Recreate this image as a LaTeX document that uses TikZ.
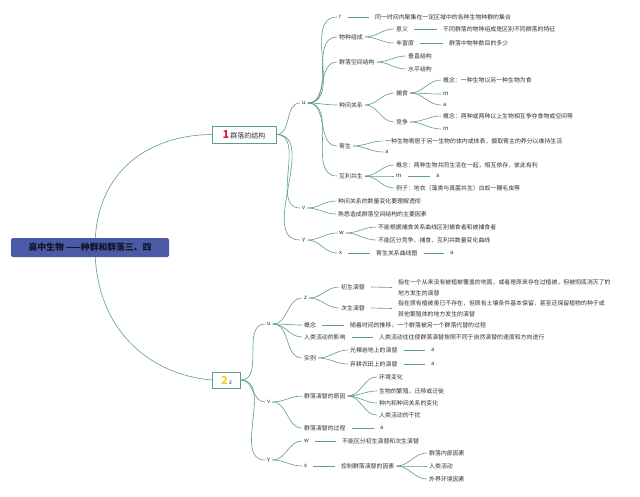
\documentclass[tikz,border=0pt]{standalone}
\usepackage{fontspec}
\setmainfont{Noto Sans CJK SC}
\usetikzlibrary{backgrounds}
\definecolor{lc}{HTML}{5E9E8C}
\definecolor{txt}{HTML}{333333}
\definecolor{rootblue}{HTML}{4A5AA6}
\definecolor{roottxt}{HTML}{10142A}
\definecolor{onered}{HTML}{D8203C}
\definecolor{twoyel}{HTML}{EFD21E}
\tikzset{
 lnk/.style={draw=lc, line width=0.6pt},
 tx/.style={anchor=west, inner xsep=2pt, inner ysep=1pt, font=\fontsize{5.9}{10.5}\selectfont, text=txt},
 txm/.style={tx, align=left},
 rootbox/.style={fill=rootblue, rounded corners=1.5pt, minimum width=158pt, minimum height=19pt, inner sep=0pt, text=roottxt, font=\fontsize{8.8}{10}\selectfont\bfseries},
 mainbox/.style={draw=lc, line width=0.7pt, fill=white, inner sep=0pt, font=\fontsize{7}{9}\selectfont, text=txt},
}
\newcommand{\cv}[2]{\draw[lnk] (#1.east) to[out=0,in=180] (#2.west);}
\newcommand{\st}[2]{\draw[lnk] ([xshift=4pt]#1.east) -- ([xshift=-4pt]#2.west);}
\begin{document}
\begin{tikzpicture}[x=1pt,y=-1pt]
\useasboundingbox (0,0) rectangle (640,496);
% main nodes
\node[rootbox] (root) at (90,247.5) {高中生物 ——种群和群落三、四};
\node[mainbox, minimum width=64pt, minimum height=17pt] (n1) at (244,134.5) {{\fontsize{11}{11}\selectfont\bfseries\color{onered}1}\,群落的结构};
\node[mainbox, minimum width=28pt, minimum height=16pt] (n2) at (226.5,380) {{\fontsize{11}{11}\selectfont\bfseries\color{twoyel}2}\,{\fontsize{5.9}{7}\selectfont z}};
\begin{pgfonlayer}{background}
\fill[white] (0,0) rectangle (640,496);
\draw[lnk] ([xshift=5pt]root.center) .. controls (95,170) and (150,135) .. (n1.west);
\draw[lnk] ([xshift=5pt]root.center) .. controls (95,330) and (150,375) .. (n2.west);
\end{pgfonlayer}
% ---------- group 1 ----------
\node[tx] (u1) at (300,103) {u};
\node[tx] (v1) at (300,208) {v};
\node[tx] (Y1) at (300,240) {Y};
\cv{n1}{u1} \cv{n1}{v1} \cv{n1}{Y1}
\node[tx] (ar) at (337,17) {r};
\node[tx] (awz) at (337,37) {物种组成};
\node[tx] (akj) at (337,62) {群落空间结构};
\node[tx] (azj) at (337,105) {种间关系};
\node[tx] (ajs) at (337,146) {寄生};
\node[tx] (ahl) at (337,176) {互利共生};
\cv{u1}{ar} \cv{u1}{awz} \cv{u1}{akj} \cv{u1}{azj} \cv{u1}{ajs} \cv{u1}{ahl}
\node[tx] (ard) at (373,17) {同一时间内聚集在一定区域中的各种生物种群的集合};
\st{ar}{ard}
\node[tx] (byy) at (394,29) {意义};
\node[tx] (byyd) at (441,29) {不同群落的物种组成是区别不同群落的特征};
\node[tx] (bff) at (394,43) {丰富度};
\node[tx] (bffd) at (447,43) {群落中物种数目的多少};
\cv{awz}{byy} \cv{awz}{bff} \st{byy}{byyd} \st{bff}{bffd}
\node[tx] (bcz) at (406,56) {垂直结构};
\node[tx] (bsp) at (406,69) {水平结构};
\cv{akj}{bcz} \cv{akj}{bsp}
\node[tx] (bbs) at (394,93) {捕食};
\node[tx] (bjz) at (394,122) {竞争};
\cv{azj}{bbs} \cv{azj}{bjz}
\node[tx] (cbs1) at (441,80) {概念：一种生物以另一种生物为食};
\node[tx] (cbs2) at (441,94) {m};
\node[tx] (cbs3) at (441,105) {a};
\cv{bbs}{cbs1} \cv{bbs}{cbs2} \cv{bbs}{cbs3}
\node[tx] (cjz1) at (441,116) {概念：两种或两种以上生物相互争夺食物或空间等};
\node[tx] (cjz2) at (441,129) {m};
\cv{bjz}{cjz1} \cv{bjz}{cjz2}
\node[tx] (bjs1) at (383,141) {一种生物寄居于另一生物的体内或体表，摄取寄主的养分以维持生活};
\node[tx] (bjs2) at (383,152) {a};
\cv{ajs}{bjs1} \cv{ajs}{bjs2}
\node[tx] (bhl1) at (394,165) {概念：两种生物共同生活在一起，相互依存，彼此有利};
\node[tx] (bhl2) at (394,176) {m};
\node[tx] (bhl2a) at (434,176) {a};
\node[tx] (bhl3) at (394,188) {例子：地衣（藻类与真菌共生）白蚁一鞭毛虫等};
\cv{ahl}{bhl1} \cv{ahl}{bhl2} \cv{ahl}{bhl3} \st{bhl2}{bhl2a}
\node[tx] (v1a) at (336,201) {种间关系的数量变化要理解透彻};
\node[tx] (v1b) at (336,214) {熟悉造成群落空间结构的主要因素};
\cv{v1}{v1a} \cv{v1}{v1b}
\node[tx] (w1) at (337,233) {w};
\node[tx] (x1) at (337,253) {x};
\cv{Y1}{w1} \cv{Y1}{x1}
\node[tx] (w1a) at (376,227) {不能根据捕食关系曲线区别捕食者和被捕食者};
\node[tx] (w1b) at (376,240) {不能区分竞争、捕食、互利共数量变化曲线};
\cv{w1}{w1a} \cv{w1}{w1b}
\node[tx] (x1a) at (374,253) {寄生关系曲线图};
\node[tx] (x1b) at (448,253) {a};
\st{x1}{x1a} \st{x1a}{x1b}
% ---------- group 2 ----------
\node[tx] (u2) at (265,324) {u};
\node[tx] (v2) at (265,402) {v};
\node[tx] (Y2) at (265,460) {Y};
\cv{n2}{u2} \cv{n2}{v2} \cv{n2}{Y2}
\node[tx] (z2) at (302,298) {z};
\node[tx] (gn) at (302,325) {概念};
\node[tx] (rl) at (302,337) {人类活动的影响};
\node[tx] (sl) at (302,358) {实例};
\cv{u2}{z2} \cv{u2}{gn} \cv{u2}{rl} \cv{u2}{sl}
\node[tx] (cs) at (339,287) {初生演替};
\node[tx] (ccs) at (339,308) {次生演替};
\cv{z2}{cs} \cv{z2}{ccs}
\node[txm] (csd) at (396,287.5) {指在一个从来没有被植被覆盖的地面，或者是原来存在过植被，但被彻底消灭了的\\地方发生的演替};
\node[txm] (ccsd) at (396,308.5) {指在原有植被虽已不存在，但原有土壤条件基本保留，甚至还保留植物的种子或\\其他繁殖体的地方发生的演替};
\st{cs}{csd} \st{ccs}{ccsd}
\node[tx] (gnd) at (348,325) {随着时间的推移，一个群落被另一个群落代替的过程};
\st{gn}{gnd}
\node[tx] (rld) at (377,337) {人类活动往往使群落演替按照不同于自然演替的速度和方向进行};
\st{rl}{rld}
\node[tx] (sl1) at (348,350) {光裸岩地上的演替};
\node[tx] (sl2) at (348,364) {弃耕农田上的演替};
\node[tx] (sl1a) at (429,350) {a};
\node[tx] (sl2a) at (429,364) {a};
\cv{sl}{sl1} \cv{sl}{sl2} \st{sl1}{sl1a} \st{sl2}{sl2a}
\node[tx] (yy) at (302,396) {群落演替的原因};
\node[tx] (gc) at (302,428) {群落演替的过程};
\cv{v2}{yy} \cv{v2}{gc}
\node[tx] (yy1) at (377,377) {环境变化};
\node[tx] (yy2) at (377,391) {生物的繁殖，迁移或迁徙};
\node[tx] (yy3) at (377,403) {种内和种间关系的变化};
\node[tx] (yy4) at (377,415) {人类活动的干扰};
\cv{yy}{yy1} \cv{yy}{yy2} \cv{yy}{yy3} \cv{yy}{yy4}
\node[tx] (gca) at (378,428) {a};
\st{gc}{gca}
\node[tx] (w2) at (302,441) {w};
\node[tx] (x2) at (302,466) {x};
\cv{Y2}{w2} \cv{Y2}{x2}
\node[tx] (w2a) at (340,441) {不能区分初生演替和次生演替};
\st{w2}{w2a}
\node[tx] (x2a) at (339,466) {控制群落演替的因素};
\st{x2}{x2a}
\node[tx] (kz1) at (427,453) {群落内部因素};
\node[tx] (kz2) at (427,466) {人类活动};
\node[tx] (kz3) at (427,479) {外界环境因素};
\cv{x2a}{kz1} \cv{x2a}{kz2} \cv{x2a}{kz3}
\end{tikzpicture}
\end{document}
